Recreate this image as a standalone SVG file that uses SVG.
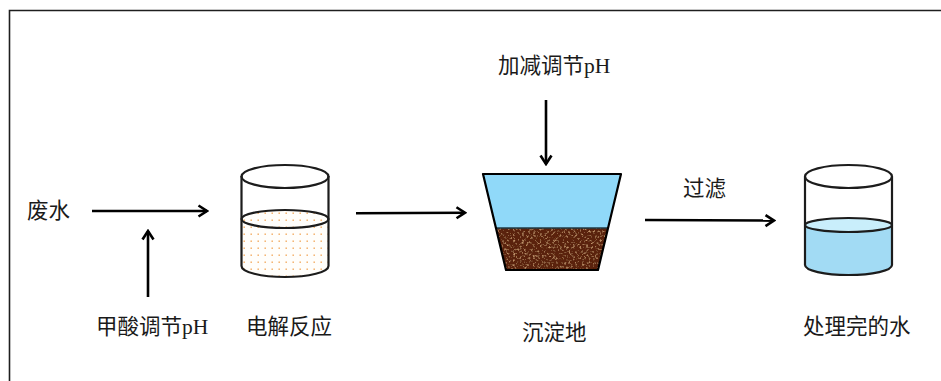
<svg xmlns="http://www.w3.org/2000/svg" width="941" height="381" viewBox="0 0 941 381">
  <style>
    .frame { stroke: #1e1e1e; stroke-width: 1.6; fill: none; }
    .flow { stroke: #000; stroke-width: 2.6; fill: none; }
    .glass { stroke: #1c1c1c; stroke-width: 2.2; }
    .label { font-family: "Liberation Serif", "Noto Sans CJK SC", serif; font-size: 21.5px; fill: #1a1a1a; }
  </style>
  <defs>
    <marker id="head" markerWidth="12" markerHeight="14" refX="10" refY="7" orient="auto" markerUnits="userSpaceOnUse">
      <path d="M1.5,1.5 L10,7 L1.5,12.5" fill="none" stroke="#000" stroke-width="2.6" stroke-linejoin="miter"/>
    </marker>
    <pattern id="dots" x="241" y="210" width="7" height="7" patternUnits="userSpaceOnUse">
      <rect x="2.5" y="2.5" width="1.4" height="1.4" fill="#f2a656"/>
    </pattern>
    <filter id="grain" x="0" y="0" width="1" height="1">
      <feTurbulence type="fractalNoise" baseFrequency="0.45" numOctaves="2" seed="7" result="noise"/>
      <feColorMatrix in="noise" type="matrix" values="0 0 0 0 0.55  0 0 0 0 0.29  0 0 0 0 0.14  3.5 0 0 0 -1.9" result="spots"/>
      <feComposite in="spots" in2="SourceAlpha" operator="in" result="clipped"/>
      <feMerge>
        <feMergeNode in="SourceGraphic"/>
        <feMergeNode in="clipped"/>
      </feMerge>
    </filter>
  </defs>

  <!-- page frame (top and left edges) -->
  <g id="frame">
    <path class="frame" d="M9.5,381 L9.5,10.5 L941,10.5"/>
  </g>

  <!-- flow connectors -->
  <g id="connectors">
    <line class="flow" x1="92" y1="211" x2="207" y2="211" marker-end="url(#head)"/>
    <line class="flow" x1="148" y1="297" x2="148" y2="231" marker-end="url(#head)"/>
    <line class="flow" x1="356" y1="213.3" x2="465" y2="212.7" marker-end="url(#head)"/>
    <line class="flow" x1="546" y1="100" x2="546" y2="164" marker-end="url(#head)"/>
    <line class="flow" x1="645" y1="220" x2="774" y2="220.6" marker-end="url(#head)"/>
  </g>

  <!-- inputs -->
  <g id="wastewater">
    <text class="label" x="27" y="218">废水</text>
  </g>
  <g id="formic-acid">
    <text class="label" x="96" y="334">甲酸调节pH</text>
  </g>
  <g id="base-adjust">
    <text class="label" x="498" y="73">加减调节pH</text>
  </g>

  <!-- electrolysis beaker -->
  <g id="electrolysis">
    <path d="M241.5,219 L241.5,266 A43.5,11 0 0 0 328.5,266 L328.5,219 A43.5,9 0 0 0 241.5,219 Z" fill="#fffefb"/>
    <path d="M241.5,219 L241.5,266 A43.5,11 0 0 0 328.5,266 L328.5,219 A43.5,9 0 0 0 241.5,219 Z" fill="url(#dots)"/>
    <path class="glass" fill="none" d="M241.5,176 L241.5,266 A43.5,11 0 0 0 328.5,266 L328.5,176"/>
    <ellipse class="glass" cx="285" cy="176.5" rx="43.5" ry="11.5" fill="none"/>
    <ellipse class="glass" cx="285" cy="219" rx="43.5" ry="9" fill="none"/>
    <text class="label" x="246" y="334">电解反应</text>
  </g>

  <!-- settling tank -->
  <g id="settling">
    <polygon points="483,174 621,174 608.1,228 495.9,228" fill="#90d9f9"/>
    <polygon points="495.9,228 608.1,228 598,270 506,270" fill="#5a2407" filter="url(#grain)"/>
    <line x1="495.9" y1="228" x2="608.1" y2="228" stroke="#1f3a44" stroke-width="1.4"/>
    <polygon points="483,174 621,174 598,270 506,270" fill="none" stroke="#000" stroke-width="2.2" stroke-linejoin="round"/>
    <text class="label" x="522" y="340">沉淀地</text>
  </g>

  <!-- filtration label -->
  <g id="filtration">
    <text class="label" x="683" y="196">过滤</text>
  </g>

  <!-- treated water beaker -->
  <g id="treated">
    <path d="M805,225 L805,265 A43.5,10 0 0 0 892,265 L892,225 Z" fill="#a2dbf4"/>
    <ellipse cx="848.5" cy="225" rx="43.5" ry="7" fill="#c9eefb"/>
    <path class="glass" fill="none" d="M805,176.5 L805,265 A43.5,10 0 0 0 892,265 L892,176.5"/>
    <ellipse class="glass" cx="848.5" cy="176.5" rx="43.5" ry="11.5" fill="none"/>
    <ellipse class="glass" cx="848.5" cy="225" rx="43.5" ry="7" fill="none"/>
    <text class="label" x="803" y="334">处理完的水</text>
  </g>
</svg>
